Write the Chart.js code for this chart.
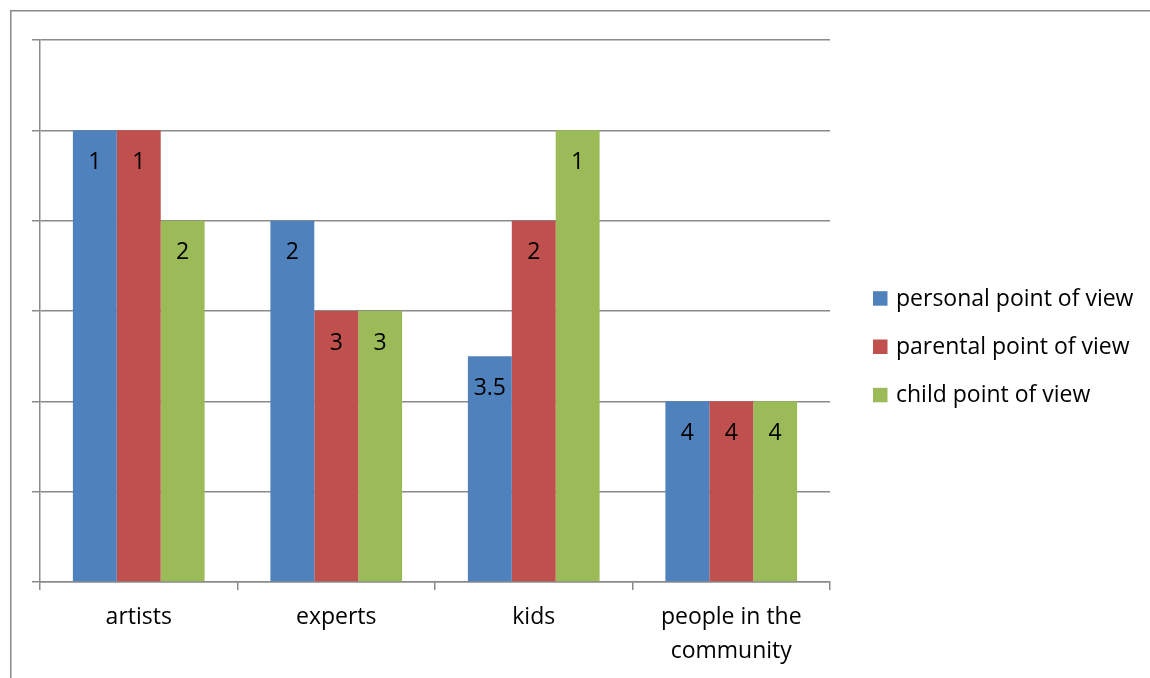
<!DOCTYPE html>
<html>
<head>
<meta charset="utf-8">
<script src="https://cdn.jsdelivr.net/npm/chart.js@4/dist/chart.umd.min.js"></script>
<style>
  html, body { margin: 0; padding: 0; background: #fff; }
  #wrap { width: 1150px; height: 678px; }
</style>
</head>
<body>
<div id="wrap"><canvas id="c" width="1150" height="678"></canvas></div>
<script>
const categories = ['artists', 'experts', 'kids', ['people in the', 'community']];
const seriesNames = ['personal point of view', 'parental point of view', 'child point of view'];
const personal = [1, 2, 3.5, 4];
const parental = [1, 3, 2, 4];
const child = [2, 3, 1, 4];
const seriesColors = ['#4F81BD', '#C0504D', '#9BBB59'];
const axisMin = 0, axisMax = 6, axisStep = 1;

const FONT = '"Open Sans", "DejaVu Sans", sans-serif';
const GRID = '#8a8a8a';

const frame = {
  id: 'frame',
  beforeDraw(chart) {
    const ctx = chart.ctx;
    ctx.save();
    ctx.fillStyle = '#fff';
    ctx.fillRect(0, 0, chart.width, chart.height);
    ctx.strokeStyle = GRID;
    ctx.lineWidth = 1.5;
    ctx.strokeRect(10.75, 10.75, chart.width + 50, chart.height + 50);
    ctx.restore();
  }
};

const valueLabels = {
  id: 'valueLabels',
  afterDatasetsDraw(chart) {
    const ctx = chart.ctx;
    ctx.save();
    ctx.font = '23px ' + FONT;
    ctx.fillStyle = '#000';
    ctx.textAlign = 'center';
    ctx.textBaseline = 'alphabetic';
    chart.data.datasets.forEach((ds, i) => {
      const meta = chart.getDatasetMeta(i);
      meta.data.forEach((el, j) => {
        ctx.fillText(String(ds.data[j]), el.x, el.y + 38.5);
      });
    });
    ctx.restore();
  }
};

const sideLegend = {
  id: 'sideLegend',
  afterDraw(chart) {
    const ctx = chart.ctx;
    const area = chart.chartArea;
    ctx.save();
    ctx.font = '23px ' + FONT;
    ctx.textBaseline = 'alphabetic';
    ctx.textAlign = 'left';
    const x0 = area.right + 43;
    const step = 48.3;
    const y0 = (area.top + area.bottom) / 2 + 43 - step;
    chart.data.datasets.forEach((ds, i) => {
      const by = y0 + i * step;
      ctx.fillStyle = ds.backgroundColor;
      ctx.fillRect(x0, by - 14.5, 14.5, 14.5);
      ctx.fillStyle = '#000';
      ctx.fillText(ds.label, x0 + 23, by);
    });
    ctx.restore();
  }
};

const mk = (name, data, color) => ({
  label: name,
  data: data,
  backgroundColor: color,
  borderWidth: 0,
  base: axisMax,
  categoryPercentage: 0.667,
  barPercentage: 1.0
});

new Chart(document.getElementById('c'), {
  type: 'bar',
  data: {
    labels: categories,
    datasets: [
      mk(seriesNames[0], personal, seriesColors[0]),
      mk(seriesNames[1], parental, seriesColors[1]),
      mk(seriesNames[2], child, seriesColors[2])
    ]
  },
  options: {
    responsive: false,
    devicePixelRatio: 1,
    animation: false,
    layout: { padding: { left: 0, top: 40, right: 320, bottom: 0 } },
    plugins: {
      legend: { display: false },
      tooltip: { enabled: false }
    },
    scales: {
      x: {
        grid: { display: true, drawOnChartArea: false, offset: true, tickLength: 8, color: GRID, lineWidth: 1.5 },
        border: { display: true, color: GRID, width: 1.5 },
        ticks: { color: '#000', font: { family: FONT, size: 23, lineHeight: 1.45 }, padding: 11, maxRotation: 0, autoSkip: false },
        afterFit(scale) { scale.height = 96; }
      },
      y: {
        reverse: true,
        min: axisMin,
        max: axisMax,
        ticks: { display: false, stepSize: axisStep },
        grid: { color: GRID, lineWidth: 1.5, tickLength: 8, drawTicks: true },
        border: { display: true, color: GRID, width: 1.5 },
        afterFit(scale) { scale.width = 40; }
      }
    }
  },
  plugins: [frame, valueLabels, sideLegend]
});
</script>
</body>
</html>
